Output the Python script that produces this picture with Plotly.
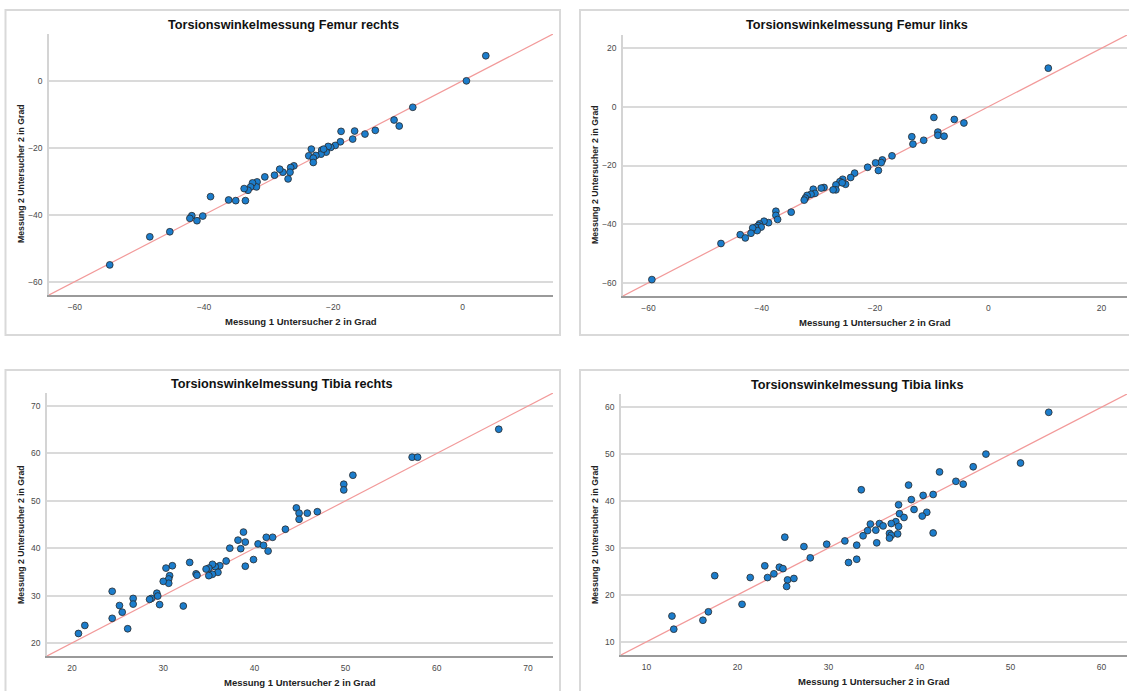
import plotly.graph_objects as go

W, H = 1129, 691

# ---------------- data ----------------
titles = ["Torsionswinkelmessung Femur rechts", "Torsionswinkelmessung Femur links",
          "Torsionswinkelmessung Tibia rechts", "Torsionswinkelmessung Tibia links"]
x_title = "Messung 1 Untersucher 2 in Grad"
y_title = "Messung 2 Untersucher 2 in Grad"

femur_re_x = [3.6, 0.6, -7.7, -10.6, -9.8, -13.5, -15.1, -16.7, -17.0, -18.8, -18.9, -19.7, -20.4,
              -20.8, -21.1, -21.8, -21.9, -21.5, -22.7, -23.4, -23.8, -23.1, -23.1, -26.1, -26.6,
              -26.7, -27.0, -27.8, -28.3, -29.1, -30.6, -31.8, -31.9, -32.5, -32.8, -33.2, -33.8,
              -33.6, -35.1, -36.2, -39.0, -40.2, -41.1, -41.9, -42.2, -45.3, -48.4, -54.6]
femur_re_y = [7.5, 0.0, -7.9, -11.7, -13.5, -14.8, -15.9, -15.0, -17.4, -15.1, -18.2, -19.3, -19.9,
              -19.6, -21.3, -20.7, -21.9, -20.4, -22.3, -20.4, -22.4, -23.1, -24.4, -25.4, -25.9,
              -27.3, -29.3, -27.3, -26.4, -28.2, -28.7, -30.2, -31.7, -30.5, -31.7, -32.7, -32.2,
              -35.8, -35.8, -35.6, -34.6, -40.4, -41.8, -40.3, -41.1, -45.1, -46.6, -55.0]

femur_li_x = [10.6, -9.6, -6.0, -4.3, -8.9, -8.9, -7.8, -13.5, -13.3, -11.4, -17.0, -18.7, -18.9,
              -19.9, -19.4, -21.3, -23.6, -24.3, -25.7, -26.2, -25.2, -25.8, -26.9, -26.9, -27.4,
              -29.0, -29.5, -30.9, -30.6, -31.3, -32.0, -32.3, -32.5, -34.8, -37.5, -37.5, -37.2,
              -38.8, -39.6, -40.4, -40.6, -40.1, -41.1, -40.8, -41.6, -41.9, -43.8, -42.9, -47.2, -59.4]
femur_li_y = [13.2, -3.6, -4.3, -5.5, -8.6, -9.7, -10.0, -10.2, -12.7, -11.4, -16.7, -18.1, -19.0,
              -19.1, -21.7, -20.6, -22.6, -24.1, -24.7, -25.5, -26.4, -25.9, -26.6, -28.3, -28.3,
              -27.5, -27.7, -28.1, -29.5, -29.8, -30.2, -31.1, -31.8, -35.9, -35.6, -37.0, -38.4,
              -39.5, -39.0, -39.9, -40.5, -41.0, -41.1, -42.2, -41.3, -43.1, -43.6, -44.7, -46.6, -58.9]

tibia_re_x = [66.8, 57.3, 57.9, 50.8, 49.8, 49.8, 44.6, 44.9, 45.8, 46.9, 44.9, 43.4, 42.0, 41.3,
              38.8, 38.2, 39.0, 40.4, 41.0, 41.5, 37.3, 38.5, 39.9, 39.0, 36.9, 36.2, 35.7, 35.4,
              35.0, 34.7, 36.0, 35.4, 35.0, 33.6, 33.7, 32.9, 31.0, 30.3, 30.7, 30.6, 30.6, 30.0,
              29.3, 29.4, 28.7, 28.5, 29.6, 32.2, 26.7, 26.7, 24.4, 25.2, 25.5, 24.4, 26.1, 21.4, 20.7]
tibia_re_y = [65.1, 59.2, 59.2, 55.4, 53.5, 52.3, 48.5, 47.4, 47.4, 47.7, 46.1, 44.0, 42.3, 42.3,
              43.4, 41.7, 41.3, 40.9, 40.6, 39.4, 40.0, 39.9, 37.6, 36.2, 37.3, 36.3, 36.1, 36.6,
              35.8, 35.6, 34.9, 34.5, 34.2, 34.6, 34.3, 37.0, 36.3, 35.8, 34.2, 33.5, 32.6, 33.0,
              30.5, 29.9, 29.4, 29.2, 28.1, 27.8, 29.4, 28.2, 30.9, 27.9, 26.5, 25.2, 23.0, 23.7, 22.0]

tibia_li_x = [54.2, 47.3, 51.1, 45.9, 42.2, 44.0, 44.8, 38.8, 33.6, 41.5, 40.4, 39.1, 37.7, 37.8,
              39.4, 38.3, 40.8, 40.3, 41.5, 37.4, 36.9, 37.7, 37.6, 35.6, 36.0, 34.6, 35.2, 34.3,
              33.8, 36.7, 36.9, 36.7, 35.3, 31.8, 33.1, 33.1, 32.2, 29.8, 27.3, 28.0, 25.2, 24.6,
              25.0, 23.0, 24.0, 23.3, 21.4, 25.5, 26.2, 25.4, 17.5, 20.5, 16.8, 16.2, 12.8, 13.0]
tibia_li_y = [58.9, 50.0, 48.1, 47.3, 46.2, 44.2, 43.6, 43.4, 42.4, 41.4, 41.2, 40.3, 39.2, 37.3,
              38.2, 36.5, 37.6, 36.8, 33.2, 35.6, 35.2, 34.6, 33.0, 35.2, 34.7, 35.1, 33.8, 33.7,
              32.6, 33.1, 32.7, 32.1, 31.1, 31.5, 30.6, 27.6, 26.9, 30.8, 30.3, 27.9, 32.3, 25.9,
              25.6, 26.2, 24.5, 23.7, 23.7, 23.2, 23.5, 21.8, 24.1, 18.0, 16.4, 14.6, 15.5, 12.7]

axis_ranges = [[-64, 14], [-64.5, 24.5], [17.25, 72.75], [7.2, 62.8]]
tick_vals = [[-60, -40, -20, 0], [-60, -40, -20, 0, 20],
             [20, 30, 40, 50, 60, 70], [10, 20, 30, 40, 50, 60]]
series = [(femur_re_x, femur_re_y), (femur_li_x, femur_li_y),
          (tibia_re_x, tibia_re_y), (tibia_li_x, tibia_li_y)]

# ---------------- layout geometry (pixels) ----------------
plot_px = [(49, 553, 34, 295), (623, 1127, 35, 296), (47, 553, 393, 656), (621, 1127, 394, 655)]
box_px = [(5.5, 560, 10, 335), (580, 1140, 10, 335), (5.5, 560, 370, 700), (580, 1140, 370, 700)]
title_px = [(283, 25), (857, 25), (282, 384), (857, 385)]
xt_px = [(301, 321), (875, 322), (300, 682), (874, 681)]
yt_px = [(21, 174), (595, 175), (21, 535), (595, 535)]

FONT = "Liberation Sans, Arial, sans-serif"
BLUE = "#1c7dcc"
LINE_RED = "#f29a9a"
GRID = "#dadada"

def px(x):
    return x / W

def py(y):
    return 1 - y / H

fig = go.Figure()
layout = dict(width=W, height=H, margin=dict(l=0, r=0, t=0, b=0),
              paper_bgcolor="white", plot_bgcolor="white", showlegend=False)
shapes, annotations = [], []

for i in range(4):
    n = "" if i == 0 else str(i + 1)
    xa, ya = "x" + n, "y" + n
    x0, x1, y0, y1 = plot_px[i]
    rng = axis_ranges[i]
    layout["xaxis" + n] = dict(domain=[px(x0), px(x1)], range=rng, anchor=ya,
                               tickvals=tick_vals[i], showgrid=False, zeroline=False,
                               showline=True, linecolor="#9a9a9a", linewidth=1.5,
                               ticks="", ticklabelstandoff=3,
                               tickfont=dict(family=FONT, size=8.5, color="#4a4a4a"))
    layout["yaxis" + n] = dict(domain=[py(y1), py(y0)], range=rng, anchor=xa,
                               tickvals=tick_vals[i], showgrid=True, gridcolor=GRID,
                               gridwidth=1.5, zeroline=False,
                               showline=True, linecolor="#d4d4d4", linewidth=1.5,
                               ticks="", ticklabelstandoff=3,
                               tickfont=dict(family=FONT, size=8.5, color="#4a4a4a"))
    # identity reference line
    fig.add_trace(go.Scatter(x=rng, y=rng, mode="lines", xaxis=xa, yaxis=ya,
                             line=dict(color=LINE_RED, width=1.2), hoverinfo="skip",
                             cliponaxis=False))
    sx, sy = series[i]
    fig.add_trace(go.Scatter(x=sx, y=sy, mode="markers", xaxis=xa, yaxis=ya,
                             marker=dict(size=6.8, color=BLUE,
                                         line=dict(color="#2a2a2a", width=0.8)),
                             cliponaxis=False))
    bx0, bx1, by0, by1 = box_px[i]
    shapes.append(dict(type="rect", xref="paper", yref="paper",
                       x0=px(bx0), x1=px(bx1), y0=py(by1), y1=py(by0),
                       line=dict(color="#d9d9d9", width=2), layer="below"))
    tx, ty = title_px[i]
    annotations.append(dict(text="<b>%s</b>" % titles[i], x=px(tx), y=py(ty),
                            xref="paper", yref="paper", showarrow=False,
                            xanchor="center", yanchor="middle",
                            font=dict(family=FONT, size=12.7, color="#111111")))
    ax_, ay_ = xt_px[i]
    annotations.append(dict(text="<b>%s</b>" % x_title, x=px(ax_), y=py(ay_),
                            xref="paper", yref="paper", showarrow=False,
                            xanchor="center", yanchor="middle",
                            font=dict(family=FONT, size=9.5, color="#222222")))
    yx_, yy_ = yt_px[i]
    annotations.append(dict(text="<b>%s</b>" % y_title, x=px(yx_), y=py(yy_),
                            xref="paper", yref="paper", showarrow=False, textangle=-90,
                            xanchor="center", yanchor="middle",
                            font=dict(family=FONT, size=8.7, color="#222222")))

layout["shapes"] = shapes
layout["annotations"] = annotations
fig.update_layout(**layout)
fig.write_html("out.html")
